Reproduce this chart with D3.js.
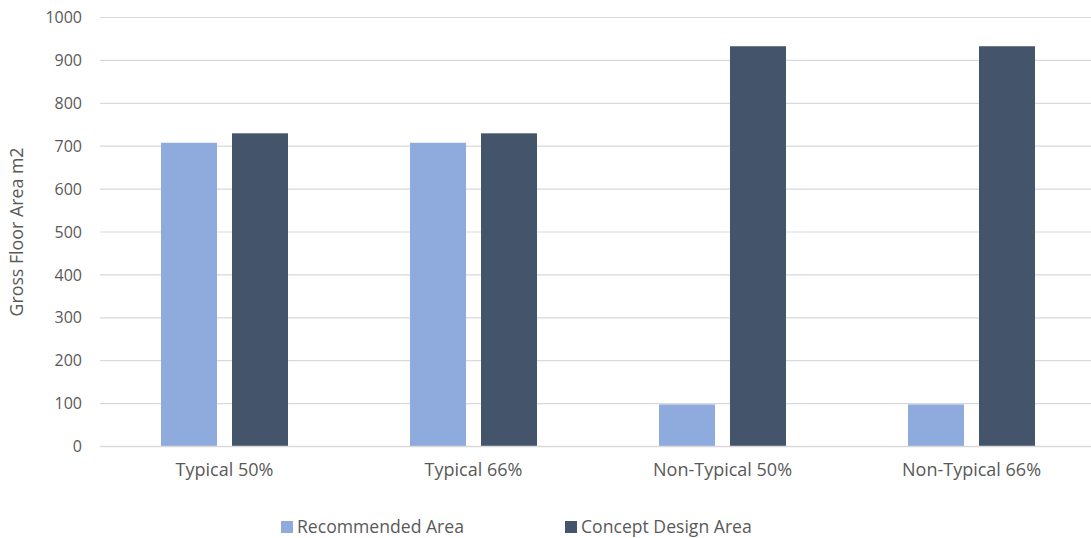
<!DOCTYPE html>
<html><head><meta charset="utf-8">
<script src="https://cdn.jsdelivr.net/npm/d3@7"></script>
<style>
html,body{margin:0;padding:0;background:#fff;}
svg text{font-family:"Open Sans",sans-serif;fill:#595959;}
</style></head>
<body>
<svg id="chart" width="1091" height="538"></svg>
<script>
const categories = ["Typical 50%", "Typical 66%", "Non-Typical 50%", "Non-Typical 66%"];
const seriesNames = ["Recommended Area", "Concept Design Area"];
const recommendedArea = [708, 708, 98, 98];
const conceptDesignArea = [730, 730, 933, 933];
const yTicks = [0, 100, 200, 300, 400, 500, 600, 700, 800, 900, 1000];
const colors = ["#8faadc", "#44546a"];

const values = [recommendedArea, conceptDesignArea];
const svg = d3.select("#chart");

const x0 = d3.scaleBand().domain(categories).range([100, 1096]).paddingInner(0).paddingOuter(0);
const x1 = d3.scaleBand().domain(seriesNames).range([0, x0.bandwidth()]).paddingInner(15/71).paddingOuter(0.859);
const y = d3.scaleLinear().domain([0, 1000]).range([446.5, 17.5]);

// y tick labels
const yAxis = d3.axisLeft(y).tickValues(yTicks).tickFormat(d3.format("d")).tickSize(0).tickPadding(18);
const gy = svg.append("g").attr("transform", "translate(100,0)").call(yAxis);
gy.select(".domain").remove();
gy.selectAll("text").style("font-size", "16px").attr("fill", "#595959");

// gridlines
svg.append("g").selectAll("line").data(yTicks).join("line")
  .attr("x1", 100).attr("x2", 1091)
  .attr("y1", d => y(d)).attr("y2", d => y(d))
  .attr("stroke", "#d9d9d9").attr("stroke-width", 1.2);

// bars
const groups = svg.append("g").selectAll("g").data(categories).join("g")
  .attr("transform", d => `translate(${x0(d)},0)`);
groups.selectAll("rect").data((c, i) => seriesNames.map((s, j) => ({s, j, v: values[j][i]})))
  .join("rect")
  .attr("x", d => x1(d.s))
  .attr("width", x1.bandwidth())
  .attr("y", d => y(d.v))
  .attr("height", d => y(0) - y(d.v))
  .attr("fill", d => colors[d.j]);

// baseline
svg.append("line").attr("x1", 100).attr("x2", 1091).attr("y1", y(0)).attr("y2", y(0))
  .attr("stroke", "#d9d9d9").attr("stroke-width", 1.4);

// x axis labels
const xAxis = d3.axisBottom(x0).tickSize(0).tickPadding(17);
const gx = svg.append("g").attr("transform", `translate(0,${y(0)})`).call(xAxis);
gx.select(".domain").remove();
gx.selectAll("text").style("font-size", "18px").attr("fill", "#595959");

// y title
svg.append("text").attr("transform", `translate(23,${(y(0)+y(1000))/2}) rotate(-90)`)
  .attr("text-anchor", "middle").style("font-size", "17.8px").text("Gross Floor Area m2");

// legend
const legX = [281, 565];
const leg = svg.append("g").selectAll("g").data(seriesNames).join("g")
  .attr("transform", (d, i) => `translate(${legX[i]},527)`);
leg.append("rect").attr("x", 0).attr("y", -6).attr("width", 12).attr("height", 12)
  .attr("fill", (d, i) => colors[i]);
leg.append("text").attr("x", 16).attr("y", 0).attr("dy", "0.35em")
  .style("font-size", "17.6px").text(d => d);
</script>
</body></html>
